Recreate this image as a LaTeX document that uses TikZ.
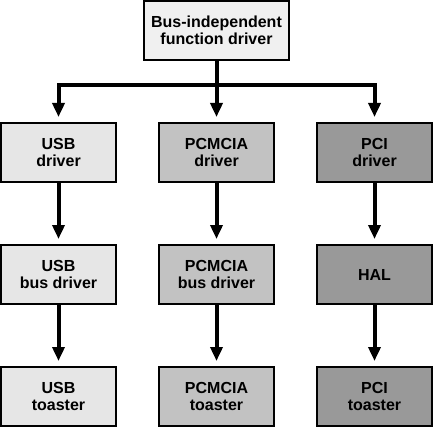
\documentclass[tikz,border=0pt]{standalone}
\usepackage{fontspec}
\setmainfont{Liberation Sans}
\usepackage{tikz}
\usetikzlibrary{arrows.meta,positioning}
\definecolor{usbgray}{HTML}{E6E6E6}
\definecolor{pcmgray}{HTML}{C2C2C2}
\definecolor{pcigray}{HTML}{999999}
\tikzset{drvbox/.style={
    % The shape:
    rectangle,
    % The size:
    minimum width=115pt,
    minimum height=59pt,
    inner sep=0pt,
    outer sep=0pt,
    % The border:
    line width=2pt,
    draw=black,
    % Font
    align=center,
    font=\bfseries\fontsize{16}{17.5}\selectfont
    },
    usbbox/.style={drvbox, fill=usbgray},
    pcmbox/.style={drvbox, fill=pcmgray},
    pcibox/.style={drvbox, fill=pcigray},
    flow/.style={line width=4pt, line join=miter,
    -{Triangle[length=14pt,width=12pt]}, shorten >=6pt},
}

\begin{document}
\begin{tikzpicture}[node distance = 63pt and 43pt]
    \useasboundingbox (0,0) rectangle (435pt,-430pt);
    \node (busind)  [drvbox,fill=black!6,minimum width=145pt] at (216.5pt,-30.5pt)
        {Bus-independent\\function driver};

    \node (pcmdrv)  [pcmbox,below=of busind]  {PCMCIA\\driver};
    \node (usbdrv)  [usbbox,left=of pcmdrv]   {USB\\driver};
    \node (pcidrv)  [pcibox,right=of pcmdrv]  {PCI\\driver};

    \node (usbbus)  [usbbox,below=of usbdrv]  {USB\\bus driver};
    \node (pcmbus)  [pcmbox,below=of pcmdrv]  {PCMCIA\\bus driver};
    \node (hal)     [pcibox,below=of pcidrv]  {HAL};

    \node (usbtst)  [usbbox,below=of usbbus]  {USB\\toaster};
    \node (pcmtst)  [pcmbox,below=of pcmbus]  {PCMCIA\\toaster};
    \node (pcitst)  [pcibox,below=of hal]     {PCI\\toaster};

    \coordinate (split) at ([yshift=-25pt]busind.south);
    \draw[line width=4pt] (busind.south) -- (split);
    \draw[flow] (split) -| (usbdrv);
    \draw[flow] (split) -- (pcmdrv);
    \draw[flow] (split) -| (pcidrv);

    \draw[flow] (usbdrv) -- (usbbus);
    \draw[flow] (usbbus) -- (usbtst);
    \draw[flow] (pcmdrv) -- (pcmbus);
    \draw[flow] (pcmbus) -- (pcmtst);
    \draw[flow] (pcidrv) -- (hal);
    \draw[flow] (hal) -- (pcitst);
\end{tikzpicture}
\end{document}
